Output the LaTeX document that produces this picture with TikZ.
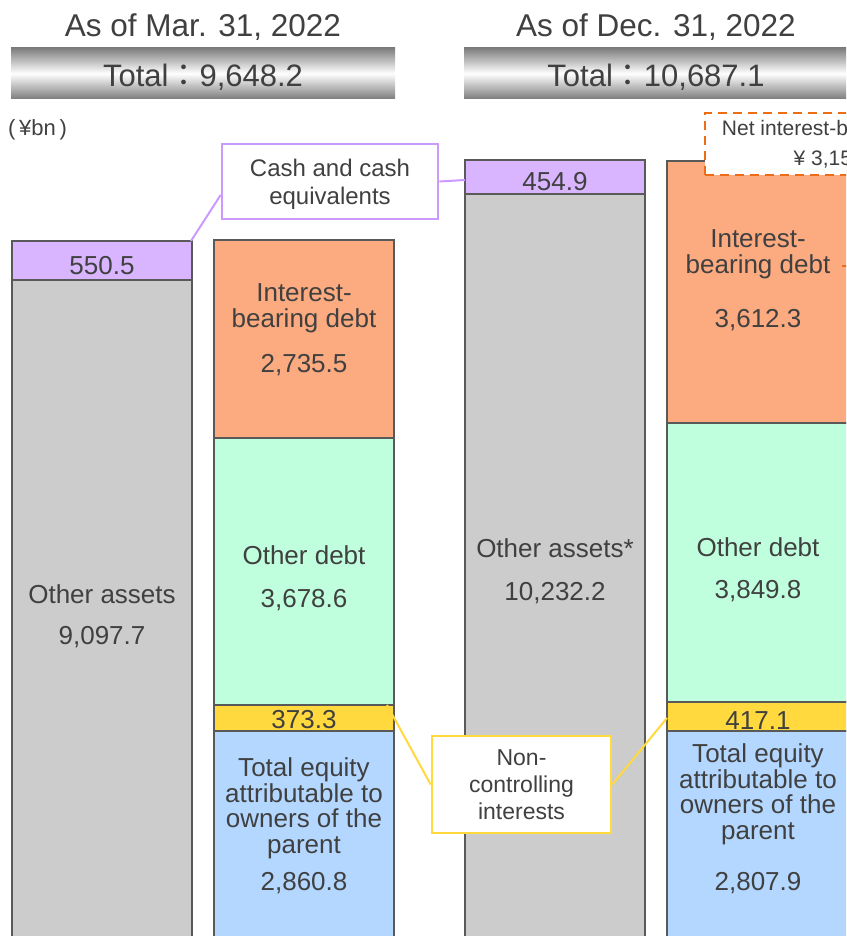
\documentclass[tikz,border=0pt]{standalone}
\usepackage{fontspec}
\setmainfont{Liberation Sans}
\newfontfamily\cjk{Noto Sans CJK JP}
\definecolor{cashfill}{RGB}{217,181,255}
\definecolor{cashline}{RGB}{204,153,255}
\definecolor{ibdfill}{RGB}{252,170,128}
\definecolor{odfill}{RGB}{191,255,222}
\definecolor{ncifill}{RGB}{255,217,61}
\definecolor{eqfill}{RGB}{179,215,255}
\definecolor{othfill}{RGB}{204,204,204}
\definecolor{edgegray}{RGB}{89,89,89}
\definecolor{txtgray}{RGB}{64,64,64}
\definecolor{netline}{RGB}{237,109,22}
\definecolor{shadegray}{RGB}{125,125,125}
\newcommand{\barseg}[5]{\draw[segline, fill=#1] (#2,#3) rectangle (#4,#5);}
\newcommand{\datehead}[3]{\node[headtext] (#1date) at (203,37) {As of #2};
					\shade[headshade] (11,48) rectangle (395,99);
					\node[headtext, font=\fontsize{31}{31}\selectfont] (#1total) at (203,87) {Total{\cjk ：}#3};}
\tikzset{
	segline/.style={draw=edgegray, line width=2.6pt},
	headtext/.style={text=txtgray, font=\fontsize{31.5}{31.5}\selectfont, anchor=base, inner sep=0pt},
	headshade/.style={top color=shadegray, bottom color=shadegray, middle color=white},
	lbl/.style={text=txtgray, font=\fontsize{26}{26}\selectfont, align=center, anchor=base, inner sep=0pt},
	eqtext/.style={font=\fontsize{26}{25.5}\selectfont},
	cashnote/.style={draw=cashline, line width=2.6pt, fill=white, text=txtgray, font=\fontsize{24}{28}\selectfont, align=center, minimum width=216pt, minimum height=75pt, inner sep=0pt, text depth=0pt},
	ncinote/.style={draw=ncifill, line width=2.6pt, fill=white, text=txtgray, font=\fontsize{23}{27}\selectfont, align=center, minimum width=179pt, minimum height=97pt, inner sep=0pt, text depth=0pt},
	netnote/.style={draw=netline, line width=2.6pt, dash pattern=on 9pt off 6pt, fill=white, text=txtgray, font=\fontsize{21}{30}\selectfont, align=center, minimum width=265pt, minimum height=62pt, inner sep=0pt},
	cashlink/.style={draw=cashline, line width=2pt},
	ncilink/.style={draw=ncifill, line width=2pt},
	netlink/.style={draw=netline, line width=2.6pt, dash pattern=on 9pt off 6pt}
}

\begin{document}
\begin{tikzpicture}[x=1pt, y=-1pt]
					\useasboundingbox (0,0) rectangle (846,936);
					\clip (0,0) rectangle (846,936);

					\datehead{mar}{Mar. 31, 2022}{9,648.2}

					\begin{scope}[xshift = 453pt]
						\datehead{dec}{Dec. 31, 2022}{10,687.1}
					\end{scope}

					\node[lbl, font=\fontsize{22}{22}\selectfont, anchor=west] (unit) at (8,130) {(\,¥bn\,)};

					% Mar. 31, 2022
					\barseg{othfill}{12}{280}{192}{960}
					\barseg{cashfill}{12}{241}{192}{280}
					\barseg{eqfill}{214}{731}{394}{960}
					\barseg{ncifill}{214}{705}{394}{731}
					\barseg{odfill}{214}{438}{394}{705}
					\barseg{ibdfill}{214}{240}{394}{438}

					% Dec. 31, 2022
					\barseg{othfill}{465}{194}{645}{960}
					\barseg{cashfill}{465}{160}{645}{194}
					\barseg{eqfill}{667}{731}{849}{960}
					\barseg{ncifill}{667}{702}{849}{731}
					\barseg{odfill}{667}{423}{849}{702}
					\barseg{ibdfill}{667}{161}{849}{423}

					\node[lbl] (cashmar) at (102,274) {550.5};
					\node[lbl] (othmar) at (102,603) {Other assets};
					\node[lbl] (othmarv) at (102,644) {9,097.7};
					\node[lbl] (ibdmar) at (304,327) {Interest-\\bearing debt};
					\node[lbl] (ibdmarv) at (304,372) {2,735.5};
					\node[lbl] (odmar) at (304,564) {Other debt};
					\node[lbl] (odmarv) at (304,607) {3,678.6};
					\node[lbl] (ncimar) at (304,728) {373.3};
					\node[lbl, eqtext] (eqmar) at (304,853) {Total equity\\attributable to\\owners of the\\parent};
					\node[lbl] (eqmarv) at (304,890) {2,860.8};

					\node[lbl] (cashdec) at (555,190) {454.9};
					\node[lbl] (othdec) at (555,557) {Other assets*};
					\node[lbl] (othdecv) at (555,600) {10,232.2};
					\node[lbl] (ibddec) at (758,273) {Interest-\\bearing debt};
					\node[lbl] (ibddecv) at (758,327) {3,612.3};
					\node[lbl] (oddec) at (758,556) {Other debt};
					\node[lbl] (oddecv) at (758,598) {3,849.8};
					\node[lbl] (ncidec) at (758,729) {417.1};
					\node[lbl, eqtext] (eqdec) at (758,839) {Total equity\\attributable to\\owners of the\\parent};
					\node[lbl] (eqdecv) at (758,890) {2,807.9};

					% callouts
					\coordinate (cashtip) at (191,241);
					\coordinate (cashdecl) at (465,180);
					\node[cashnote] (cashnote) at (330,181.5) {Cash and cash\\equivalents};
					\draw[cashlink] (cashnote.187) -- (cashtip);
					\draw[cashlink] (cashnote.east) -- (cashdecl);

					\coordinate (ncitipmar) at (387,705);
					\coordinate (ncitipdec) at (667,718);
					\node[ncinote] (ncinote) at (521.5,784.5) {Non-\\controlling\\interests};
					\draw[ncilink] (ncinote.west) -- (ncitipmar);
					\draw[ncilink] (ncinote.east) -- (ncitipdec);

					\node[netnote] (netnote) at (837.5,144) {Net interest-bearing debt\\¥ 3,157.4};
					\coordinate (netA) at (842,266);
					\coordinate (netB) at (900,266);
					\draw[netlink] (netA) -- (netB);

\end{tikzpicture}
\end{document}
